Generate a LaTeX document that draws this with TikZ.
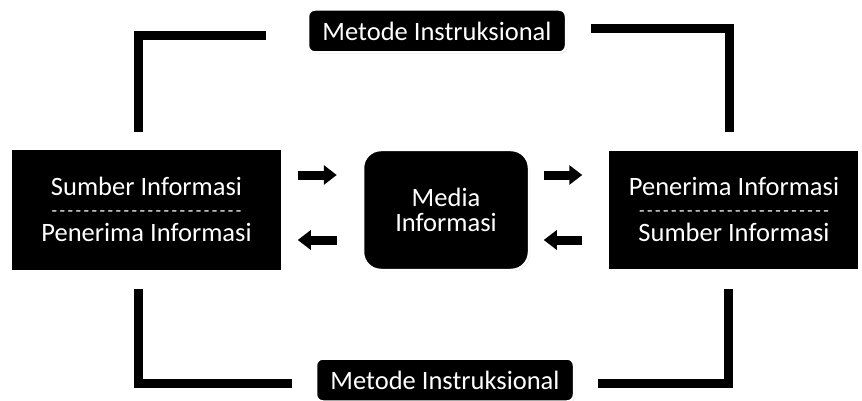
\documentclass[tikz,border=0pt]{standalone}
\usepackage{fontspec}
\setmainfont{Carlito}
\usetikzlibrary{arrows.meta,shadows}
\tikzset{
  box/.style={fill=black, draw=white, line width=2.5pt, text=white,
    drop shadow={opacity=0.35, shadow xshift=1.2pt, shadow yshift=-1.2pt}},
  label/.style={box, rounded corners=7pt, font=\fontsize{26.5}{28}\selectfont,
    minimum width=258pt, minimum height=43pt, inner sep=0pt},
  txt/.style={text=white, font=\fontsize{26.5}{28}\selectfont, inner sep=0pt, anchor=base},
  dashtxt/.style={text=white, font=\fontsize{18}{18}\selectfont, inner sep=0pt, anchor=base},
  bracket/.style={line width=9pt, draw=black, miter limit=10, line join=miter},
  blockarrow/.style={line width=9pt, draw=black,
    -{Triangle[length=13pt,width=19pt]}}
}
\newcommand\dd{-\kern2.5pt}
\newcommand\dashrow{\dd\dd\dd\dd\dd\dd\dd\dd\dd\dd\dd\dd\dd\dd\dd\dd\dd\dd\dd\dd\dd\dd\dd-}
\begin{document}
\begin{tikzpicture}[x=1pt,y=-1pt]
\useasboundingbox (0,0) rectangle (862,401);
% boxes
\node[box, minimum width=272pt, minimum height=123pt, inner sep=0pt] (L) at (146.5,210) {};
\node[box, minimum width=252pt, minimum height=121pt, inner sep=0pt] (R) at (733.5,210) {};
\node[box, rounded corners=18pt, minimum width=166pt, minimum height=120pt, inner sep=0pt,
      font=\fontsize{26.5}{25}\selectfont, align=center] (M) at (446,210) {Media\\Informasi};
\node[label] (T) at (437,31) {Metode Instruksional};
\node[label] (B) at (445,380) {Metode Instruksional};
% texts in side boxes
\node[txt] (L1) at (146.5,195) {Sumber Informasi};
\node[dashtxt] (Ld) at (146.5,216) {\dashrow};
\node[txt] (L2) at (146.5,241) {Penerima Informasi};
\node[txt] (R1) at (734,195) {Penerima Informasi};
\node[dashtxt] (Rd) at (734,216) {\dashrow};
\node[txt] (R2) at (734,241) {Sumber Informasi};
% brackets
\draw[bracket, shorten <=15pt, shorten >=41pt] ([xshift=-8.5pt]L.north) |- ([yshift=-5pt]T.west);
\draw[bracket, shorten <=16pt, shorten >=24pt] ([xshift=-4.5pt]R.north) |- ([yshift=2pt]T.east);
\draw[bracket, shorten <=16pt, shorten >=23pt] ([xshift=-8.5pt]L.south) |- ([yshift=-3pt]B.west);
\draw[bracket, shorten <=17pt, shorten >=23pt] ([xshift=-5.5pt]R.south) |- ([yshift=-3pt]B.east);
% arrows
\draw[blockarrow, shorten <=14pt, shorten >=25pt] ([yshift=35pt]L.east) -- ([yshift=35pt]M.west);
\draw[blockarrow, shorten <=25pt, shorten >=14pt] ([yshift=-30pt]M.west) -- ([yshift=-30pt]L.east);
\draw[blockarrow, shorten <=13.5pt, shorten >=24pt] ([yshift=35pt]M.east) -- ([yshift=35pt]R.west);
\draw[blockarrow, shorten <=24pt, shorten >=13.5pt] ([yshift=-30pt]R.west) -- ([yshift=-30pt]M.east);
\end{tikzpicture}
\end{document}
